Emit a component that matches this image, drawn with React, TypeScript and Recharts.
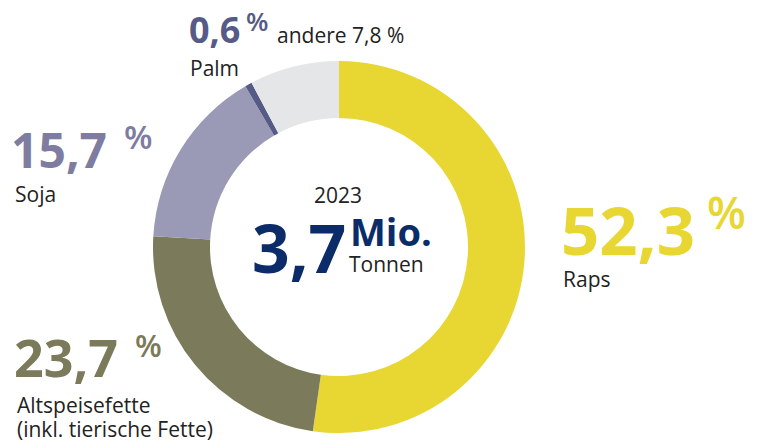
import { PieChart, Pie, Cell } from 'recharts';

// shares of raw materials for biodiesel, 2023
const categories = ['Raps', 'Altspeisefette', 'Soja', 'Palm', 'andere'];
const shares = [52.3, 23.7, 15.7, 0.6, 7.8];
const sliceColors = ['#E8D633', '#7B7A5B', '#9B9AB6', '#555A87', '#E5E6E8'];
const numberColors = ['#E8D633', '#7B7A5B', '#7E7CA0', '#555A87', '#333333'];
const totalYear = '2023';
const totalValue = 3.7;

const data = categories.map((name, i) => ({ name, value: shares[i] }));

const fmt = (v: number) => v.toFixed(1).replace('.', ',');

// hand placed like the original graphic
const bigLabels = [
  { i: 0, x: 561, y: 255, size: 67, px: 707, py: 229, psize: 45, sub: ['Raps'], sx: 563, sy: 287 },
  { i: 1, x: 14, y: 377, size: 52, px: 135, py: 357, psize: 31, sub: ['Altspeisefette', '(inkl. tierische Fette)'], sx: 17, sy: 413 },
  { i: 2, x: 11, y: 168, size: 48, px: 124, py: 149, psize: 33, sub: ['Soja'], sx: 15, sy: 202 },
  { i: 3, x: 189, y: 43, size: 36, px: 246, py: 31, psize: 26, sub: ['Palm'], sx: 190, sy: 76 },
];

const font = '"Open Sans", sans-serif';

export default function App() {
  return (
    <div style={{ position: 'absolute', left: 0, top: 0, width: 766, height: 447, background: '#fff' }}>
      <PieChart width={766} height={447} margin={{ top: 0, right: 0, bottom: 0, left: 0 }}>
        <Pie
          data={data}
          dataKey="value"
          cx={339}
          cy={247}
          innerRadius={129}
          outerRadius={186}
          startAngle={90}
          endAngle={-270}
          stroke="none"
          isAnimationActive={false}
        >
          {data.map((d, i) => (
            <Cell key={d.name} fill={sliceColors[i]} />
          ))}
        </Pie>
      </PieChart>
      <svg width={766} height={447} style={{ position: 'absolute', left: 0, top: 0 }} fontFamily={font}>
        {bigLabels.map((l) => (
          <g key={l.i}>
            <text x={l.x} y={l.y} fontSize={l.size} fontWeight={700} fill={numberColors[l.i]}>
              {fmt(shares[l.i])}
            </text>
            <text x={l.px} y={l.py} fontSize={l.psize} fontWeight={600} fill={numberColors[l.i]}>
              %
            </text>
            {l.sub.map((s, k) => (
              <text key={s} x={l.sx} y={l.sy + k * 24} fontSize={21} fill="#222">
                {s}
              </text>
            ))}
          </g>
        ))}
        <text x={277} y={43} fontSize={21} fill="#222">
          {`${categories[4]} ${fmt(shares[4])} %`}
        </text>
        <text x={338} y={203} fontSize={21} fill="#222" textAnchor="middle">
          {totalYear}
        </text>
        <text x={252} y={273} fontSize={66} fontWeight={700} fill="#0B2C68">
          {fmt(totalValue)}
        </text>
        <text x={350} y={246} fontSize={38} fontWeight={700} fill="#0B2C68">
          Mio.
        </text>
        <text x={349} y={272} fontSize={21} fill="#222">
          Tonnen
        </text>
      </svg>
    </div>
  );
}
